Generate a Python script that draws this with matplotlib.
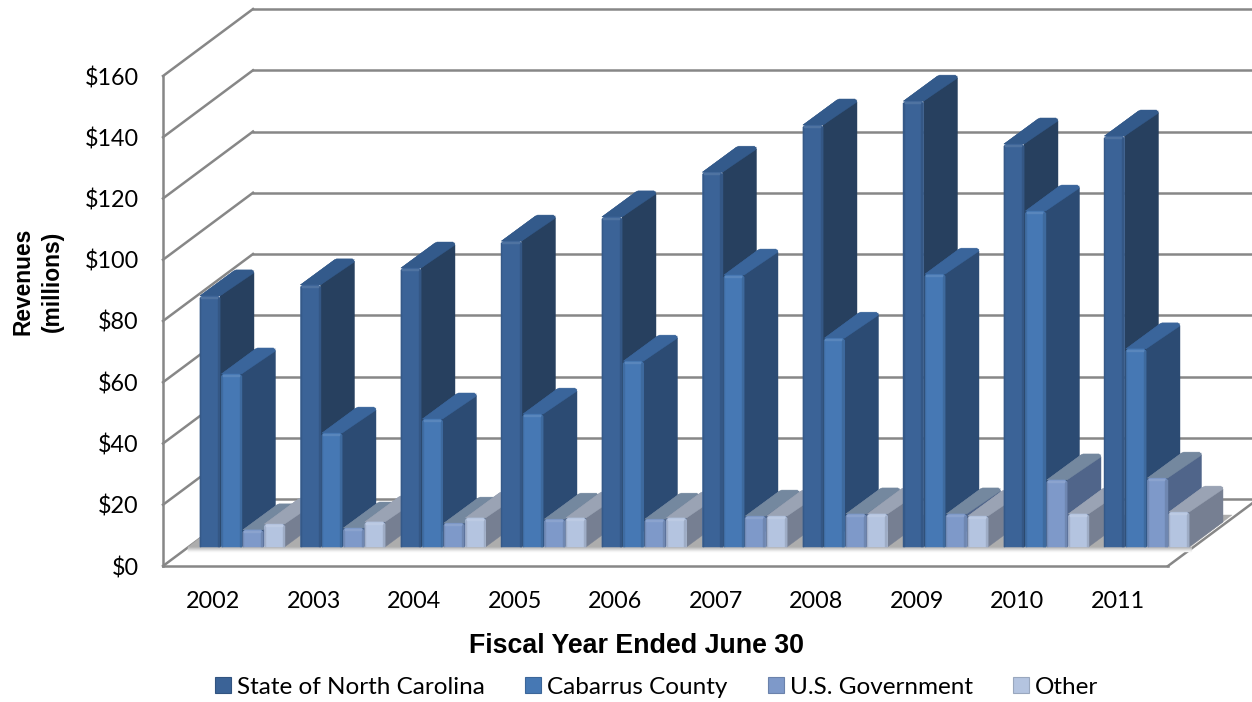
import matplotlib
matplotlib.use("Agg")
import matplotlib.pyplot as plt
from matplotlib.patches import Polygon, Patch
from matplotlib.colors import to_rgb

years = ["2002", "2003", "2004", "2005", "2006", "2007", "2008", "2009", "2010", "2011"]
state = [82, 85.6, 91.1, 99.9, 107.8, 122.4, 137.8, 145.6, 131.6, 134.2]
county = [56.5, 37.2, 41.8, 43.4, 60.7, 88.8, 68.2, 89.1, 109.7, 64.7]
usgov = [5.6, 6.2, 7.8, 9.1, 9.1, 10.1, 10.8, 10.8, 21.9, 22.5]
other = [7.5, 8.2, 9.5, 9.5, 9.5, 10.1, 10.8, 10.1, 10.8, 11.4]
series_names = ["State of North Carolina", "Cabarrus County", "U.S. Government", "Other"]
yticks = [0, 20, 40, 60, 80, 100, 120, 140, 160]

# (front, side, top-start, top-end)
palette = [
    ("#3b6397", "#27405f", "#2b4b75", "#335a8b"),
    ("#4678b4", "#2c4b73", "#315784", "#3a659b"),
    ("#7e99c9", "#50658a", "#5d7298", "#74889f"),
    ("#b4c4e0", "#767f92", "#808a9c", "#9aa3b4"),
]

W, H = 1252, 702
L, R, T, B = 163, 1168, 76, 566
fig = plt.figure(figsize=(W / 100, H / 100), dpi=100, facecolor="white")
ax = fig.add_axes([L / W, (H - B) / H, (R - L) / W, (B - T) / H])
ax.set_xlim(0, 10)
ax.set_ylim(0, 160)
ax.patch.set_visible(False)

PX = 10 / (R - L)          # category units per pixel
PY = 160 / (B - T)         # dollars per pixel
GRID = "#878787"


def mix(c1, c2, t):
    a, b = to_rgb(c1), to_rgb(c2)
    return tuple(a[i] + (b[i] - a[i]) * t for i in range(3))


def poly(pts, color, z):
    ax.add_patch(Polygon(pts, closed=True, facecolor=color, edgecolor=color, lw=0.3,
                         zorder=z, clip_on=False, joinstyle="round"))


def line(xs, ys, z=1):
    ax.plot(xs, ys, color=GRID, lw=1.8, zorder=z, clip_on=False, solid_capstyle="projecting")


# walls and floor outline
WX, WY = 90 * PX, 67 * PY
for v in yticks:
    line([0, WX], [v, v + WY])
    line([WX, 10 + WX], [v + WY, v + WY])
line([0, 0], [0, 160], z=2)
line([0, 10], [0, 0], z=2)
line([10, 10 + WX], [0, WY], z=2)

# floor slab under the bars
BASE_DY = 19 * PY
poly([(25 * PX, BASE_DY), (10 + 22 * PX, BASE_DY), (10 + 64 * PX, 51 * PY), (67 * PX, 51 * PY)],
     "#adadad", 3)
for k in range(5):
    y0 = BASE_DY - k * PY
    poly([(25 * PX, y0), (10 + 24 * PX, y0), (10 + 24 * PX - 1.0 * PX, y0 - PY), (25 * PX, y0 - PY)],
         mix("#b4b4b4", "#f4f4f4", k / 4), 3)


def draw_bar(x0, v, cols):
    front, side, t0, t1 = cols
    w = 20 * PX
    dx, dy = 34 * PX, 25 * PY
    c = 2 * PX
    cy = 2 * PY
    base = BASE_DY
    top = base + v
    xr = x0 + w
    # side face
    poly([(xr, base), (xr, top), (xr + dx - c, top + dy), (xr + dx, top + dy - cy), (xr + dx, base + dy)],
         side, 10)
    # top face, shaded across its width
    n = 6
    for k in range(n):
        a = x0 + w * k / n
        b = x0 + w * (k + 1) / n
        poly([(a, top), (b, top), (b + dx, top + dy), (a + dx, top + dy)],
             mix(t0, t1, (n - 1 - k) / (n - 1) * 0.35 + 0.3), 10)
    # rounded far corners
    poly([(x0 + dx, top + dy), (x0 + dx + 2 * PX, top + dy + 1 * PY), (xr + dx - 2 * PX, top + dy + 1 * PY),
          (xr + dx, top + dy - cy), (xr, top), (x0, top)], t1, 10)
    # front face
    poly([(x0, base), (x0, top - cy), (x0 + c, top), (xr - c, top), (xr, top - cy), (xr, base)], front, 10)
    # bevel strips
    poly([(x0, base), (x0, top - cy), (x0 + PX, top - cy), (x0 + PX, base)], mix(front, "#000000", 0.10), 10)
    poly([(xr - 2 * PX, base), (xr - 2 * PX, top - cy), (xr, top - cy), (xr, base)], mix(front, "#000000", 0.12), 10)
    h = min(3 * PY, v * 0.5)
    poly([(x0 + PX, top - h), (x0 + PX, top - 0.5 * cy), (xr - 2 * PX, top - 0.5 * cy), (xr - 2 * PX, top - h)],
         mix(front, "#ffffff", 0.10), 10)


data = [state, county, usgov, other]
for i in range(len(years)):
    for s, vals in enumerate(data):
        draw_bar(i + (37.0 + 21.5 * s) * PX, vals[i], palette[s])

# axes furniture
for sp in ax.spines.values():
    sp.set_visible(False)
ax.set_yticks(yticks)
ax.set_yticklabels([f"${v}" for v in yticks], fontfamily="Lato", fontsize=16.8, color="black")
ax.set_xticks([i + 0.5 for i in range(len(years))])
ax.set_xticklabels(years, fontfamily="Lato", fontsize=16.8, color="black")
ax.tick_params(axis="both", length=0)
ax.tick_params(axis="y", pad=17.5)
ax.tick_params(axis="x", pad=18)

fig.text(636.5 / W, 1 - 646 / H, "Fiscal Year Ended June 30", family="Liberation Sans", weight="bold",
         fontsize=19.3, ha="center", va="center", color="black")
fig.text(38 / W, 1 - 281 / H, "Revenues\n(millions)", family="Liberation Sans", weight="bold",
         fontsize=16.4, rotation=90, ha="center", va="center", linespacing=1.35, color="black")

handles = [Patch(facecolor=palette[i][0], edgecolor=mix(palette[i][0], "#000000", 0.15), lw=0.8) for i in range(4)]
ax.legend(handles, series_names, ncol=4, loc="center", bbox_to_anchor=(656.5 / W, 1 - 687 / H),
          bbox_transform=fig.transFigure, frameon=False, handlelength=0.66, handleheight=0.66,
          handletextpad=0.25, columnspacing=1.65, prop={"family": "Lato", "size": 17.5},
          labelcolor="black", borderpad=0, borderaxespad=0)

fig.savefig("out.png", dpi=100, facecolor="white")
